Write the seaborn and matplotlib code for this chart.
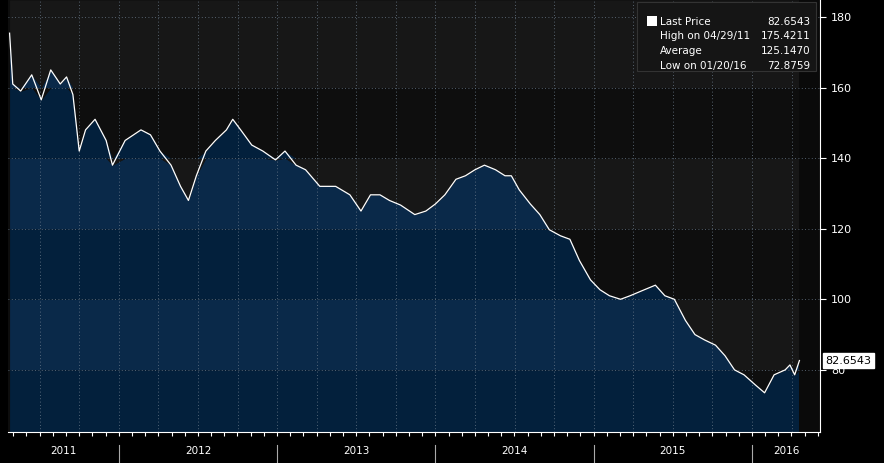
import numpy as np
import pandas as pd
import matplotlib.pyplot as plt
import seaborn as sns

# price path (decimal year, value)
years = [2011.31, 2011.33, 2011.38, 2011.45, 2011.51, 2011.57, 2011.63, 2011.67, 2011.71, 2011.75,
         2011.79, 2011.85, 2011.92, 2011.96, 2012.04, 2012.14, 2012.20, 2012.26, 2012.33, 2012.39,
         2012.44, 2012.49, 2012.55, 2012.61, 2012.68, 2012.72, 2012.77, 2012.84, 2012.91, 2012.99,
         2013.05, 2013.12, 2013.18, 2013.27, 2013.37, 2013.46, 2013.53, 2013.59, 2013.65, 2013.71,
         2013.78, 2013.87, 2013.94, 2014.00, 2014.06, 2014.13, 2014.19, 2014.25, 2014.31, 2014.38,
         2014.44, 2014.48, 2014.53, 2014.60, 2014.66, 2014.72, 2014.79, 2014.85, 2014.91, 2014.98,
         2015.04, 2015.10, 2015.17, 2015.23, 2015.32, 2015.39, 2015.45, 2015.51, 2015.58, 2015.64,
         2015.70, 2015.77, 2015.83, 2015.89, 2015.95, 2016.02, 2016.08, 2016.14, 2016.21, 2016.24,
         2016.27, 2016.30]
prices = [175.4, 161, 159, 163.6, 156.5, 165, 161, 163, 158, 142,
          148, 151, 145, 138, 145, 148, 146.6, 142, 138, 132,
          128, 135, 142, 145, 148, 151, 148, 143.7, 142, 139.5,
          142, 138, 136.7, 132, 132, 129.6, 125, 129.6, 129.6, 128,
          126.7, 124, 125, 127, 129.6, 134, 135, 136.7, 138, 136.7,
          135, 135, 131, 127, 124, 119.7, 118, 117, 111, 105.5,
          102.7, 101, 100, 101, 102.7, 104, 101, 100, 94, 90,
          88.5, 87, 84, 80, 78.6, 75.8, 73.5, 78.6, 80, 81.4,
          78.6, 82.65]
year_labels = ["2011", "2012", "2013", "2014", "2015", "2016"]
legend_rows = [("Last Price", "82.6543"), ("High on 04/29/11", "175.4211"),
               ("Average", "125.1470"), ("Low on 01/20/16", "72.8759")]

df = pd.DataFrame({"year": years, "price": prices})
x = np.array(years)
y = np.array(prices)
ylo, yhi = 62.4, 184.8
x0, x1 = 2011.30, 2016.43

fig = plt.figure(figsize=(8.84, 4.63), dpi=100, facecolor="black")
ax = fig.add_axes([8 / 884, 31 / 463, 812 / 884, 432 / 463])
ax.set_facecolor("#0d0d0d")
ax.set_xlim(x0, x1)
ax.set_ylim(ylo, yhi)

# area under curve with horizontal bands, dark bands above curve
navy = ["#03203c", "#0a2949"]
dark = ["#0e0e0e", "#171717"]
edges = [ylo, 80, 100, 120, 140, 160, yhi]
for i in range(len(edges) - 1):
    lo, hi = edges[i], edges[i + 1]
    ax.fill_between(x, lo, np.clip(y, lo, hi), color=navy[i % 2], lw=0)
    ax.fill_between(x, np.clip(y, lo, hi), hi, color=dark[i % 2], lw=0)
ax.fill_between([x[-1], x1], ylo, yhi, color="#0a0a0a", lw=0)

sns.lineplot(data=df, x="year", y="price", ax=ax, color="white", lw=0.9, zorder=3)

# dotted grid
for q in np.arange(2011.25, 2016.5, 0.25):
    ax.axvline(q, color="#6a7a8a", ls=(0, (1, 3)), lw=0.6, zorder=2)
for h in [80, 100, 120, 140, 160, 180]:
    ax.axhline(h, color="#6a7a8a", ls=(0, (1, 3)), lw=0.6, zorder=2)

ax.set_xlabel("")
ax.set_ylabel("")
ax.yaxis.tick_right()
ax.set_yticks([80, 100, 120, 140, 160, 180])
ax.tick_params(axis="y", colors="white", labelsize=8, length=4, direction="out", pad=4)
ax.set_xticks(np.arange(2011.333, 2016.42, 1 / 12))
ax.tick_params(axis="x", colors="white", length=3, labelbottom=False)
for s in ["top", "left"]:
    ax.spines[s].set_visible(False)
ax.spines["bottom"].set_color("white")
ax.spines["right"].set_color("white")

# year labels and separators below the axis
for i, lab in enumerate(year_labels):
    yr = 2011 + i
    c = (max(yr, x0) + min(yr + 1, x1)) / 2
    ax.text(c, -0.045, lab, transform=ax.get_xaxis_transform(), color="white",
            ha="center", va="center", fontsize=7.5, clip_on=False)
    if yr > 2011:
        ax.plot([yr, yr], [-0.11, -0.03], transform=ax.get_xaxis_transform(),
                color="#aaaaaa", lw=0.8, clip_on=False)

# last price tag
ax.annotate("82.6543", xy=(1.0, 82.65), xycoords=("axes fraction", "data"),
            xytext=(4, 0), textcoords="offset points", va="center", ha="left",
            fontsize=8, color="black",
            bbox=dict(boxstyle="square,pad=0.2", fc="white", ec="white"))

# legend box
lx, ly = 0.775, 0.985
box = plt.Rectangle((lx, 0.835), 0.22, 0.16, transform=ax.transAxes,
                    fc="#151515", ec="#333333", lw=0.8, zorder=5)
ax.add_patch(box)
for k, (name, val) in enumerate(legend_rows):
    yy = ly - 0.035 - k * 0.034
    ax.text(lx + 0.028, yy, name, transform=ax.transAxes, color="white",
            fontsize=7.5, va="center", zorder=6)
    ax.text(lx + 0.213, yy, val, transform=ax.transAxes, color="white",
            fontsize=7.5, va="center", ha="right", zorder=6)
ax.add_patch(plt.Rectangle((lx + 0.012, ly - 0.045), 0.012, 0.022,
                           transform=ax.transAxes, fc="white", zorder=6))

fig.savefig("out.png", dpi=100, facecolor="black")
